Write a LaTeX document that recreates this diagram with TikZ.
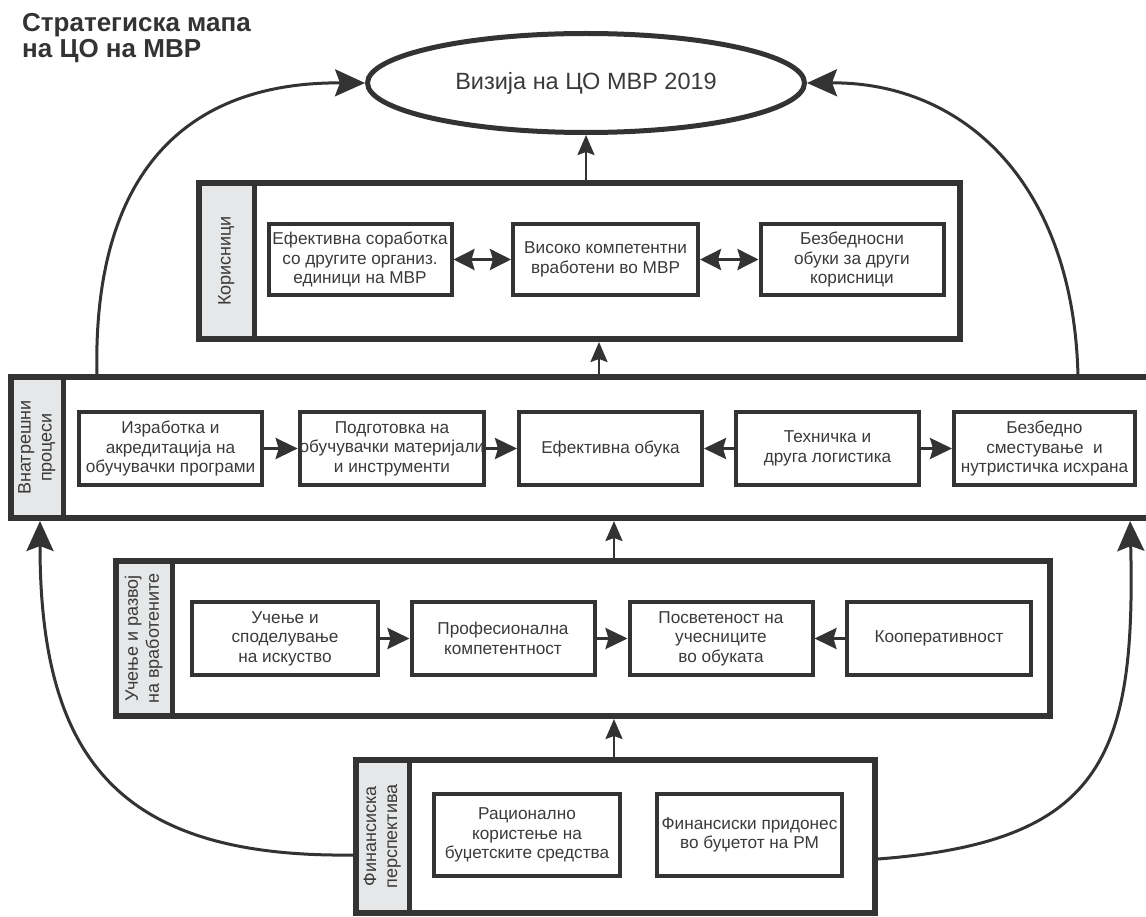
\documentclass[tikz,border=0pt]{standalone}
\usepackage{fontspec}
\setmainfont{Liberation Sans}
\usepackage{xcolor}
\definecolor{mapLine}{HTML}{333333}
\definecolor{mapInk}{HTML}{3A3A3A}
\definecolor{mapStrip}{HTML}{E6E7E8}
\usepackage{tikz}
\usetikzlibrary{arrows.meta, shapes.geometric}

\begin{document}
\begin{tikzpicture}[x=1pt, y=-1pt,
  every node/.style={inner sep=0pt, text=mapInk},
  mappanel/.style={draw=mapLine, line width=6pt, anchor=north west},
  mapstrip/.style={draw=mapLine, fill=mapStrip, line width=4.5pt, anchor=north west},
  maplabel/.style={rotate=90, align=center, font=\fontsize{18}{21}\selectfont},
  mapbox/.style={draw=mapLine, line width=4pt, align=center, minimum width=183pt, minimum height=73pt, font=\fontsize{17.2}{19.5}\selectfont},
  flowarr/.style={draw=mapLine, line width=3pt, -{Stealth[length=22pt, width=21pt, inset=3pt]}},
  duoarr/.style={flowarr, {Stealth[length=21pt, width=21pt, inset=3pt]}-{Stealth[length=21pt, width=21pt, inset=3pt]}},
  liftarr/.style={draw=mapLine, line width=2.5pt, -{Stealth[length=20pt, width=17pt, inset=3pt]}},
  sweeparr/.style={draw=mapLine, line width=3pt, -{Stealth[length=30pt, width=27pt, inset=5pt]}}]
  \useasboundingbox (0,0) rectangle (1146,917);

  \node[anchor=north west, align=left, text=mapLine, font=\bfseries\fontsize{26}{26.5}\selectfont] (title) at (22,13) {Стратегиска мапа\\на ЦО на МВР};
  \node[ellipse, draw=mapLine, line width=5pt, minimum width=437pt, minimum height=99pt, font=\fontsize{23.5}{26}\selectfont] (vis) at (586,83) {Визија на ЦО МВР 2019};

  % korisnici
  \node[mapstrip, minimum width=56pt, minimum height=157.5pt] (korstrip) at (196,180) {};
  \node[mappanel, minimum width=761pt, minimum height=156pt] (kor) at (196,180) {};
  \node[maplabel] (korlbl) at (korstrip) {Корисници};
  \node[mapbox, minimum height=71pt] (k1) at (360,259.5) {Ефективна соработка\\со другите организ.\\единици на МВР};
  \node[mapbox, minimum height=71pt, minimum width=185pt] (k2) at (605.5,259.5) {Високо компетентни\\вработени во МВР};
  \node[mapbox, minimum height=71pt] (k3) at (852,259.5) {Безбедносни\\обуки за други\\корисници};
  \draw[duoarr] (k1) -- (k2);
  \draw[duoarr] (k2) -- (k3);

  % vnatresni procesi
  \node[mapstrip, minimum width=53pt, minimum height=142.5pt] (vnatstrip) at (8,374) {};
  \node[mappanel, draw=none, outer sep=0pt, minimum width=1135pt, minimum height=141pt] (vnat) at (11,377) {};
  \draw[mapLine, line width=6pt] (vnat.north east) -- (vnat.north west) -- (vnat.south west) -- (vnat.south east);
  \node[maplabel] (vnatlbl) at (vnatstrip) {Внатрешни\\процеси};
  \node[mapbox] (v1) at (170.5,448.5) {Изработка и\\акредитација на\\обучувачки програми};
  \node[mapbox] (v2) at (392,448.5) {Подготовка на\\обучувачки материјали\\и инструменти};
  \node[mapbox] (v3) at (610.5,448.5) {Ефективна обука};
  \node[mapbox] (v4) at (827.5,448.5) {Техничка и\\друга логистика};
  \node[mapbox, minimum width=181pt] (v5) at (1044.5,448.5) {Безбедно\\сместување\ \ и\\нутристичка исхрана};
  \draw[flowarr] (v1) -- (v2);
  \draw[flowarr] (v2) -- (v3);
  \draw[flowarr] (v4) -- (v3);
  \draw[flowarr] (v4) -- (v5);

  % ucenje i razvoj
  \node[mapstrip, minimum width=57pt, minimum height=156.5pt] (ucnstrip) at (113,558) {};
  \node[mappanel, minimum width=934pt, minimum height=155pt] (ucn) at (113,558) {};
  \node[maplabel] (ucnlbl) at (ucnstrip) {Учење и развој\\на вработените};
  \node[mapbox, minimum width=186pt] (c1) at (285,638.5) {Учење и\\споделување\\на искуство};
  \node[mapbox] (c2) at (503,638.5) {Професионална\\компетентност};
  \node[mapbox] (c3) at (721,638.5) {Посветеност на\\учесниците\\во обуката};
  \node[mapbox, minimum width=184pt] (c4) at (939,638.5) {Кооперативност};
  \draw[flowarr] (c1) -- (c2);
  \draw[flowarr] (c2) -- (c3);
  \draw[flowarr] (c4) -- (c3);

  % finansiska perspektiva
  \node[mapstrip, minimum width=54pt, minimum height=154.5pt] (finstrip) at (353,757) {};
  \node[mappanel, minimum width=519pt, minimum height=153pt] (fin) at (353,757) {};
  \node[maplabel] (finlbl) at (finstrip) {Финансиска\\перспектива};
  \node[mapbox, minimum width=186pt, minimum height=82pt] (f1) at (527,835) {Рационално\\користење на\\буџетските средства};
  \node[mapbox, minimum width=185pt, minimum height=82pt] (f2) at (749.5,835) {Финансиски придонес\\во буџетот на РМ};

  \coordinate (colB) at (599,0);
  \coordinate (colC) at (614,0);
  \draw[liftarr] (kor.north -| vis.south) -- (vis.south);
  \draw[liftarr] (vnat.north -| colB) -- (kor.south -| colB);
  \draw[liftarr, shorten >=3pt] (ucn.north -| colC) -- (vnat.south -| colC);
  \draw[liftarr] (fin.north -| colC) -- (ucn.south -| colC);

  \draw[sweeparr] ([xshift=86pt]vnat.north west) .. controls (92,185) and (175,82) .. (vis.west);
  \draw[sweeparr] ([xshift=-68pt]vnat.north east) .. controls (1074,185) and (965,82) .. (vis.east);
  \draw[sweeparr, shorten >=3pt] ([yshift=-18.5pt]fin.west) .. controls (120,858) and (40,760) .. ([xshift=29pt]vnat.south west);
  \draw[sweeparr, shorten >=3pt] ([yshift=-22.5pt]fin.east) .. controls (1100,842) and (1136,760) .. ([xshift=-16pt]vnat.south east);
\end{tikzpicture}
\end{document}
